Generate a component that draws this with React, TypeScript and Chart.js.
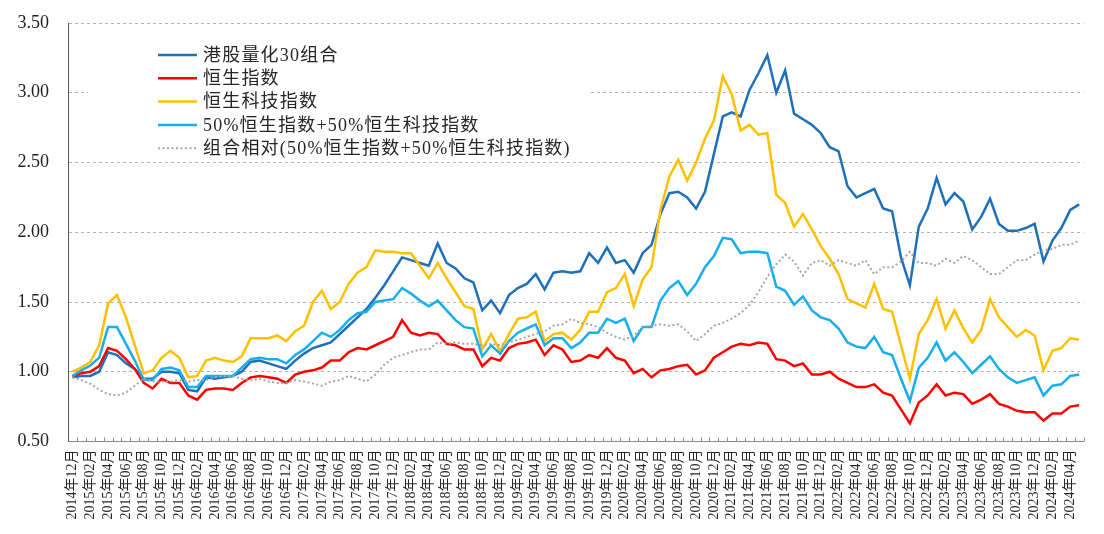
import React, { useEffect, useRef } from "react";
import { Chart, registerables } from "chart.js";

Chart.register(...registerables);

// ---- data ----
const startYear = 2014;
const startMonth = 12;
const monthCount = 114; // 2014-12 .. 2024-05

function buildMonthLabels(): string[] {
  const out: string[] = [];
  let y = startYear;
  let m = startMonth;
  for (let k = 0; k < monthCount; k++) {
    out.push(`${y}年${m < 10 ? "0" + m : m}月`);
    m += 1;
    if (m > 12) {
      m = 1;
      y += 1;
    }
  }
  return out;
}
const monthLabels = buildMonthLabels();

const quant30 = [
  0.96, 0.97, 0.97, 1.0, 1.14, 1.12, 1.06, 1.02, 0.95, 0.95, 1.0, 1.0, 0.99, 0.87, 0.86, 0.96, 0.95, 0.96, 0.97, 1.0,
  1.07, 1.08, 1.06, 1.04, 1.02, 1.08, 1.13, 1.17, 1.19, 1.21, 1.27, 1.33, 1.39, 1.45, 1.53, 1.62, 1.72, 1.82, 1.8, 1.78,
  1.76, 1.92, 1.78, 1.74, 1.67, 1.64, 1.44, 1.51, 1.42, 1.55, 1.6, 1.63, 1.7, 1.59, 1.71, 1.72, 1.71, 1.72, 1.85, 1.78,
  1.89, 1.78, 1.8, 1.71, 1.85, 1.91, 2.13, 2.28, 2.29, 2.25, 2.17, 2.29, 2.56, 2.83, 2.86, 2.83, 3.02, 3.14, 3.27, 3.0,
  3.16, 2.85, 2.81, 2.77, 2.71, 2.61, 2.58, 2.33, 2.25, 2.28, 2.31, 2.17, 2.15, 1.82, 1.62, 2.04, 2.17, 2.39, 2.2, 2.28,
  2.22, 2.02, 2.11, 2.24, 2.06, 2.01, 2.01, 2.03, 2.06, 1.79, 1.94, 2.03, 2.16, 2.2,
];

const hsi = [
  0.97, 0.99, 1.0, 1.04, 1.17, 1.15, 1.09, 1.02, 0.92, 0.88, 0.95, 0.92, 0.92, 0.83, 0.8, 0.87, 0.88, 0.88, 0.87, 0.92,
  0.96, 0.97, 0.96, 0.95, 0.92, 0.98, 1.0, 1.01, 1.03, 1.08, 1.08, 1.14, 1.17, 1.16, 1.19, 1.22, 1.25, 1.37, 1.28, 1.26,
  1.28, 1.27, 1.2, 1.19, 1.16, 1.16, 1.04, 1.1, 1.08, 1.17, 1.2, 1.21, 1.23, 1.12, 1.19, 1.16, 1.07, 1.08, 1.12, 1.1,
  1.17, 1.1, 1.08, 0.99, 1.02, 0.96, 1.01, 1.02, 1.04, 1.05, 0.98, 1.01, 1.1, 1.14, 1.18, 1.2, 1.19, 1.21, 1.2, 1.09,
  1.08, 1.04, 1.06, 0.98, 0.98, 1.0, 0.95, 0.92, 0.89, 0.89, 0.91, 0.85, 0.83, 0.73, 0.63, 0.78, 0.83, 0.91, 0.83, 0.85,
  0.84, 0.77, 0.8, 0.84, 0.77, 0.75, 0.72, 0.71, 0.71, 0.65, 0.7, 0.7, 0.75, 0.76,
];

const hstech = [
  1.0, 1.03, 1.07, 1.19, 1.49, 1.55, 1.39, 1.19, 0.99, 1.01, 1.1, 1.15, 1.1, 0.96, 0.97, 1.08, 1.1, 1.08, 1.07, 1.11,
  1.24, 1.24, 1.24, 1.26, 1.22, 1.29, 1.33, 1.5, 1.58, 1.45, 1.5, 1.63, 1.71, 1.75, 1.87, 1.86, 1.86, 1.85, 1.85, 1.76,
  1.67, 1.78, 1.67, 1.57, 1.47, 1.45, 1.16, 1.27, 1.15, 1.27, 1.38, 1.39, 1.43, 1.22, 1.27, 1.28, 1.23, 1.3, 1.43, 1.43,
  1.57, 1.6, 1.7, 1.47, 1.66, 1.75, 2.16, 2.4, 2.52, 2.37, 2.5, 2.67, 2.8, 3.12, 2.99, 2.73, 2.77, 2.7, 2.71, 2.27,
  2.21, 2.04, 2.13, 2.02, 1.9, 1.81, 1.7, 1.52, 1.49, 1.46, 1.63, 1.45, 1.43, 1.19, 0.95, 1.27, 1.37, 1.52, 1.31, 1.44,
  1.31, 1.21, 1.3, 1.52, 1.39, 1.32, 1.25, 1.3, 1.26, 1.01, 1.15, 1.17, 1.24, 1.23,
];

const blend = [
  0.97, 1.01, 1.045, 1.1, 1.32, 1.32, 1.2, 1.08, 0.94, 0.94, 1.02, 1.03, 1.01, 0.89, 0.89, 0.97, 0.97, 0.97, 0.97, 1.03,
  1.09, 1.1, 1.09, 1.09, 1.06, 1.12, 1.16, 1.22, 1.28, 1.25, 1.3, 1.37, 1.42, 1.43, 1.5, 1.51, 1.52, 1.6, 1.56, 1.51,
  1.47, 1.51, 1.44, 1.37, 1.32, 1.31, 1.11, 1.19, 1.13, 1.22, 1.28, 1.31, 1.34, 1.19, 1.24, 1.24, 1.17, 1.21, 1.28, 1.28,
  1.38, 1.35, 1.38, 1.22, 1.32, 1.32, 1.51, 1.6, 1.65, 1.55, 1.63, 1.75, 1.83, 1.96, 1.95, 1.85, 1.86, 1.86, 1.85, 1.61,
  1.58, 1.48, 1.54, 1.44, 1.39, 1.37, 1.31, 1.21, 1.18, 1.17, 1.25, 1.14, 1.12, 0.95, 0.79, 1.03, 1.1, 1.21, 1.08, 1.14,
  1.07, 0.99, 1.05, 1.11, 1.02, 0.96, 0.92, 0.94, 0.96, 0.83, 0.9, 0.91, 0.97, 0.98,
];

const relative = [
  0.96, 0.94, 0.915, 0.87, 0.84, 0.83, 0.85, 0.9, 0.95, 0.93, 0.93, 0.93, 0.94, 0.93, 0.94, 0.94, 0.96, 0.97, 0.97, 0.95,
  0.94, 0.95, 0.93, 0.92, 0.92, 0.94, 0.93, 0.915, 0.9, 0.93, 0.94, 0.97, 0.95, 0.93, 0.98, 1.05, 1.1, 1.12, 1.14, 1.16,
  1.16, 1.21, 1.2, 1.21, 1.2, 1.2, 1.19, 1.2, 1.19, 1.21, 1.23, 1.25, 1.27, 1.29, 1.33, 1.34, 1.38, 1.35, 1.34, 1.32,
  1.28, 1.25, 1.23, 1.26, 1.32, 1.33, 1.34, 1.33, 1.34, 1.29, 1.22, 1.27, 1.33, 1.35, 1.38, 1.42, 1.48, 1.57, 1.68, 1.77,
  1.84, 1.79, 1.69, 1.78, 1.8, 1.76, 1.8, 1.78, 1.76, 1.8, 1.7, 1.75, 1.75, 1.79, 1.86, 1.78, 1.78, 1.76, 1.81, 1.78,
  1.83, 1.8, 1.75, 1.7, 1.7, 1.75, 1.8, 1.8, 1.84, 1.87, 1.88, 1.91, 1.91, 1.94,
];

const seriesNames = [
  "港股量化30组合",
  "恒生指数",
  "恒生科技指数",
  "50%恒生指数+50%恒生科技指数",
  "组合相对(50%恒生指数+50%恒生科技指数)",
];
const seriesColors = ["#1E70BA", "#FF0000", "#FFC000", "#17AEEE", "#A6A6A6"];

const yMin = 0.5;
const yMax = 3.5;
const yStep = 0.5;

const SERIF = '"Liberation Serif", "Times New Roman", "Noto Sans CJK SC", serif';

// ---- plugins ----
const innerTicksPlugin = {
  id: "innerTicks",
  beforeDatasetsDraw(chart: any) {
    const xs = chart.scales.x;
    const { ctx, chartArea } = chart;
    const n = monthLabels.length;
    const w = (chartArea.right - chartArea.left) / n;
    ctx.save();
    ctx.strokeStyle = "#8c8c8c";
    ctx.lineWidth = 1;
    ctx.beginPath();
    for (let i = 1; i <= n; i++) {
      const x = Math.round(xs.getPixelForValue(i - 1) + w / 2) + 0.5;
      ctx.moveTo(x, chartArea.bottom);
      ctx.lineTo(x, chartArea.bottom - 4);
    }
    ctx.stroke();
    ctx.restore();
  },
};

const boxLegendPlugin = {
  id: "boxLegend",
  afterDatasetsDraw(chart: any) {
    const { ctx, chartArea } = chart;
    const left = chartArea.left + 20;
    const top = chartArea.top + 13;
    ctx.save();
    ctx.fillStyle = "#ffffff";
    ctx.fillRect(left, top, 502, 124);
    const rowH = 23.3;
    for (let k = 0; k < seriesNames.length; k++) {
      const y = chartArea.top + 32 + k * rowH;
      ctx.beginPath();
      ctx.strokeStyle = seriesColors[k];
      if (k === 4) {
        ctx.lineWidth = 2;
        ctx.setLineDash([2, 2.5]);
      } else {
        ctx.lineWidth = 2.5;
        ctx.setLineDash([]);
      }
      ctx.moveTo(chartArea.left + 90, y);
      ctx.lineTo(chartArea.left + 129, y);
      ctx.stroke();
      ctx.setLineDash([]);
      ctx.fillStyle = "#262626";
      ctx.font = `18px ${SERIF}`;
      try {
        (ctx as any).letterSpacing = "1.2px";
      } catch (e) {}
      ctx.textAlign = "left";
      ctx.textBaseline = "middle";
      ctx.fillText(seriesNames[k], chartArea.left + 135, y + 1);
    }
    ctx.restore();
  },
};

export default function App() {
  const canvasRef = useRef<HTMLCanvasElement | null>(null);

  useEffect(() => {
    if (!canvasRef.current) return;
    const seriesData = [quant30, hsi, hstech, blend, relative];
    const chart = new Chart(canvasRef.current, {
      type: "line",
      data: {
        labels: monthLabels,
        datasets: seriesData.map((d, k) => ({
          label: seriesNames[k],
          data: d,
          borderColor: seriesColors[k],
          backgroundColor: seriesColors[k],
          borderWidth: k === 4 ? 2 : 2.5,
          borderDash: k === 4 ? [2, 2.5] : [],
          pointRadius: 0,
          pointHoverRadius: 0,
          tension: 0,
          fill: false,
          order: 5 - k,
        })),
      },
      options: {
        animation: false,
        responsive: true,
        maintainAspectRatio: false,
        events: [],
        layout: { padding: { top: 23, right: 11, left: 0, bottom: 0 } },
        plugins: {
          legend: { display: false },
          tooltip: { enabled: false },
          title: { display: false },
        },
        scales: {
          x: {
            type: "category",
            offset: true,
            grid: { display: false, drawTicks: false },
            border: { display: true, color: "#8c8c8c", width: 1 },
            ticks: {
              autoSkip: false,
              minRotation: 90,
              maxRotation: 90,
              padding: 8,
              color: "#262626",
              font: { family: SERIF, size: 14 },
              callback: (_v: any, idx: number) => (idx % 2 === 0 ? monthLabels[idx] : ""),
            },
            afterFit: (scale: any) => {
              scale.height = 92.5;
            },
          },
          y: {
            min: yMin,
            max: yMax,
            grid: {
              display: true,
              drawTicks: false,
              color: "#b4b4b4",
              lineWidth: 1,
            },
            border: { display: true, color: "#595959", width: 1, dash: [3, 3] as any },
            ticks: {
              stepSize: yStep,
              padding: 19,
              color: "#222222",
              font: { family: SERIF, size: 18 },
              callback: (v: any) => Number(v).toFixed(2),
            },
            afterFit: (scale: any) => {
              scale.width = 68;
              scale.paddingTop = 0;
              scale.paddingBottom = 0;
            },
          },
        },
      },
      plugins: [innerTicksPlugin, boxLegendPlugin],
    });
    return () => chart.destroy();
  }, []);

  return (
    <div style={{ position: "fixed", left: 0, top: 0, width: 1104, height: 534, background: "#ffffff" }}>
      <canvas ref={canvasRef} />
    </div>
  );
}
